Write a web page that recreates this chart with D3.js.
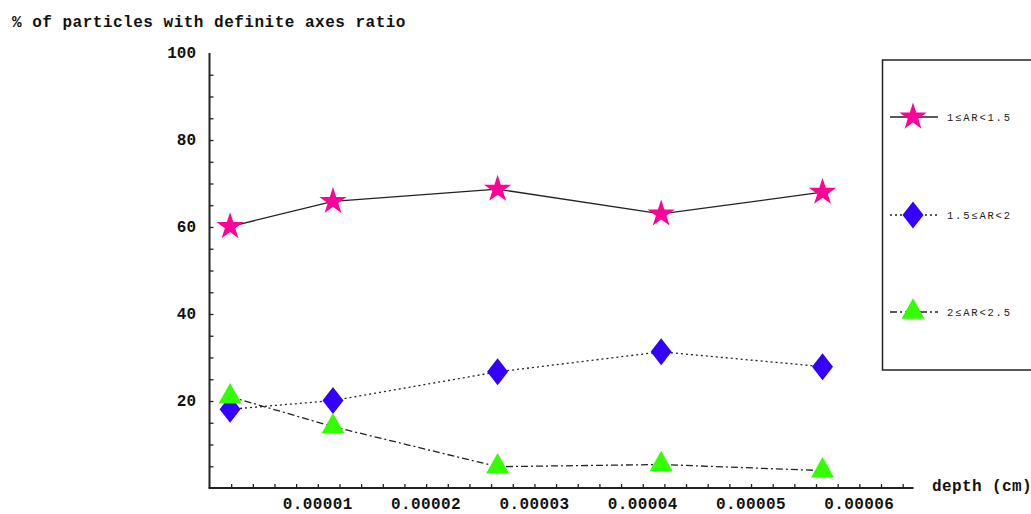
<!DOCTYPE html>
<html>
<head>
<meta charset="utf-8">
<script src="https://cdn.jsdelivr.net/npm/d3@7/dist/d3.min.js"></script>
<style>
  html, body { margin: 0; padding: 0; background: #fff; }
  svg { display: block; }
  .mono { font-family: "Liberation Mono", "DejaVu Sans Mono", monospace; }
</style>
</head>
<body>
<svg id="chart" width="1031" height="514"></svg>
<script>
// Depth (cm) at which the particle samples were taken
const depths = [0.0000019, 0.0000114, 0.0000266, 0.0000417, 0.0000566];

// % of particles in each axes-ratio class
const ar1to15 = [60.1, 65.9, 68.7, 63.0, 68.0];
const ar15to2 = [18.1, 20.1, 26.7, 31.3, 27.9];
const ar2to25 = [21.0, 14.1, 4.9, 5.4, 4.0];

const seriesNames = ["1\u2264AR<1.5", "1.5\u2264AR<2", "2\u2264AR<2.5"];

const xTicks = [0.00001, 0.00002, 0.00003, 0.00004, 0.00005, 0.00006];
const xTickLabels = ["0.00001", "0.00002", "0.00003", "0.00004", "0.00005", "0.00006"];
const yTicks = [20, 40, 60, 80, 100];
const yTickLabels = ["20", "40", "60", "80", "100"];

const svg = d3.select("#chart");

const x = d3.scaleLinear().domain([0, 0.000065]).range([209.5, 913.5]);
const y = d3.scaleLinear().domain([0, 100]).range([488, 53]);

const axisColor = "#222";
const lineColor = "#222";

// Marker shapes
const starPath = d3.symbol().type(d3.symbolStar).size(232)();
function diamondPath(w, h) {
  return `M0,${-h / 2}L${w / 2},0L0,${h / 2}L${-w / 2},0Z`;
}
function trianglePath(w, h) {
  return `M0,${-2 * h / 3}L${w / 2},${h / 3}L${-w / 2},${h / 3}Z`;
}

const series = [
  { name: seriesNames[0], values: ar1to15, dash: null, color: "#ff0099", shape: starPath },
  { name: seriesNames[1], values: ar15to2, dash: "2,3", color: "#3300ff", shape: diamondPath(21, 27) },
  { name: seriesNames[2], values: ar2to25, dash: "7,3,2,3", color: "#33ff00", shape: trianglePath(23, 20.5) }
];

// Axes
const yMinor = d3.range(5, 100, 5);
const xMinor = d3.range(1, 33).map(i => i * 0.000002);

const yAxis = d3.axisRight(y).tickValues(yMinor).tickSize(4).tickFormat("");
const gy = svg.append("g").attr("transform", `translate(${x(0)},0)`).call(yAxis);
gy.select(".domain").attr("d", `M0,${y(100)}V${y(0)}`).attr("stroke", axisColor).attr("stroke-width", 2);
gy.selectAll(".tick line").attr("stroke", axisColor).attr("stroke-width", 1.3);

const xAxis = d3.axisTop(x).tickValues(xMinor).tickSize(4).tickFormat("");
const gx = svg.append("g").attr("transform", `translate(0,${y(0)})`).call(xAxis);
gx.select(".domain").attr("d", `M${x(0) - 1},0H${x(0.000065)}`).attr("stroke", axisColor).attr("stroke-width", 2);
gx.selectAll(".tick line").attr("stroke", axisColor).attr("stroke-width", 1.3);

// Tick labels
svg.append("g").selectAll("text").data(yTicks).join("text")
  .attr("class", "mono")
  .attr("x", 196)
  .attr("y", d => y(d) + 5)
  .attr("text-anchor", "end")
  .attr("font-size", 16).attr("font-weight", "bold")
  .attr("fill", "#111")
  .text((d, i) => yTickLabels[i]);

svg.append("g").selectAll("text").data(xTicks).join("text")
  .attr("class", "mono")
  .attr("x", d => x(d))
  .attr("y", 509)
  .attr("text-anchor", "middle")
  .attr("font-size", 16).attr("font-weight", "bold")
  .attr("letter-spacing", 0.4)
  .attr("fill", "#111")
  .text((d, i) => xTickLabels[i]);

// Axis titles
svg.append("text").attr("class", "mono")
  .attr("x", 12).attr("y", 27)
  .attr("font-size", 16).attr("font-weight", "bold")
  .attr("letter-spacing", 0.5)
  .attr("fill", "#111")
  .text("% of particles with definite axes ratio");

svg.append("text").attr("class", "mono")
  .attr("x", 932).attr("y", 491)
  .attr("font-size", 16).attr("font-weight", "bold")
  .attr("letter-spacing", 0.4)
  .attr("fill", "#111")
  .text("depth (cm)");

// Lines and markers
const line = d3.line().x((d, i) => x(depths[i])).y(d => y(d));

series.forEach(s => {
  svg.append("path")
    .datum(s.values)
    .attr("d", line)
    .attr("fill", "none")
    .attr("stroke", lineColor)
    .attr("stroke-width", 1.3)
    .attr("stroke-dasharray", s.dash);
});

series.forEach(s => {
  svg.append("g").selectAll("path").data(s.values).join("path")
    .attr("d", s.shape)
    .attr("transform", (d, i) => `translate(${x(depths[i])},${y(d)})`)
    .attr("fill", s.color);
});

// Legend
const legend = svg.append("g");
legend.append("rect")
  .attr("x", 882.5).attr("y", 60)
  .attr("width", 170).attr("height", 310)
  .attr("fill", "#fff")
  .attr("stroke", "#222").attr("stroke-width", 1.5);

const legendY = [117, 215, 312];
series.forEach((s, i) => {
  const g = legend.append("g").attr("transform", `translate(0,${legendY[i]})`);
  g.append("line")
    .attr("x1", 890).attr("x2", 938)
    .attr("y1", 0).attr("y2", 0)
    .attr("stroke", lineColor).attr("stroke-width", 1.3)
    .attr("stroke-dasharray", s.dash);
  g.append("path")
    .attr("d", s.shape)
    .attr("transform", "translate(913,0)")
    .attr("fill", s.color);
  g.append("text").attr("class", "mono")
    .attr("x", 947).attr("y", 4)
    .attr("font-size", 10.5)
    .attr("letter-spacing", 1.8)
    .attr("fill", "#222")
    .text(s.name);
});
</script>
</body>
</html>
